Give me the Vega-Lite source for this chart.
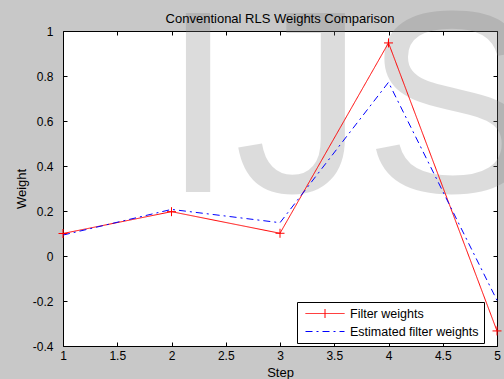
{
  "$schema": "https://vega.github.io/schema/vega-lite/v6.json",
  "width": 434,
  "height": 315,
  "autosize": {"type": "none"},
  "padding": {"left": 63, "top": 31, "right": 7, "bottom": 33},
  "background": "#c8c8c8",
  "config": {
    "view": {"fill": "white", "stroke": null},
    "font": "Liberation Sans",
    "axis": {
      "grid": false,
      "domainColor": "black",
      "tickColor": "black",
      "labelColor": "black",
      "titleColor": "black",
      "labelFont": "Liberation Sans",
      "titleFont": "Liberation Sans",
      "labelFontSize": 12,
      "titleFontSize": 13,
      "titleFontWeight": "normal",
      "tickSize": -4,
      "zindex": 1,
      "domainWidth": 1,
      "tickWidth": 1,
      "labelFlush": false
    }
  },
  "title": {
    "text": "Conventional RLS Weights Comparison",
    "fontSize": 13,
    "fontWeight": "normal",
    "font": "Liberation Sans",
    "color": "black",
    "frame": "group",
    "baseline": "alphabetic",
    "offset": 10,
    "dy": 62,
    "anchor": "middle"
  },
  "datasets": {
    "weights": [
      {"step": 1, "weight": 0.1, "series": "Filter weights"},
      {"step": 2, "weight": 0.197, "series": "Filter weights"},
      {"step": 3, "weight": 0.101, "series": "Filter weights"},
      {"step": 4, "weight": 0.947, "series": "Filter weights"},
      {"step": 5, "weight": -0.333, "series": "Filter weights"},
      {"step": 1, "weight": 0.093, "series": "Estimated filter weights"},
      {"step": 2, "weight": 0.207, "series": "Estimated filter weights"},
      {"step": 3, "weight": 0.148, "series": "Estimated filter weights"},
      {"step": 4, "weight": 0.772, "series": "Estimated filter weights"},
      {"step": 5, "weight": -0.197, "series": "Estimated filter weights"}
    ],
    "mark": [{"label": "IJS"}]
  },
  "resolve": {"axis": {"x": "independent", "y": "independent"}},
  "layer": [
    {
      "data": {"name": "mark"},
      "mark": {"type": "text", "font": "Liberation Sans", "fontSize": 260, "align": "left", "baseline": "top", "color": "#808080", "opacity": 0.27, "clip": false},
      "encoding": {
        "x": {"datum": 1.912, "type": "quantitative", "axis": null},
        "y": {"datum": 1.1956, "type": "quantitative", "axis": null},
        "text": {"field": "label"}
      }
    },
    {
      "data": {"name": "weights"},
      "mark": {"type": "line", "strokeWidth": 1},
      "encoding": {
        "x": {
          "field": "step", "type": "quantitative",
          "scale": {"domain": [1, 5], "nice": false, "zero": false},
          "axis": {"orient": "bottom", "values": [1, 1.5, 2, 2.5, 3, 3.5, 4, 4.5, 5], "labelExpr": "'' + datum.value", "labelPadding": 8, "title": "Step", "titleY": 30, "titleBaseline": "alphabetic"}
        },
        "y": {
          "field": "weight", "type": "quantitative",
          "scale": {"domain": [-0.4, 1], "nice": false, "zero": false},
          "axis": {"orient": "left", "values": [-0.4, -0.2, 0, 0.2, 0.4, 0.6, 0.8, 1], "labelExpr": "'' + datum.value", "labelPadding": 14, "title": "Weight", "titleX": -37.5, "titleY": 157.5, "titleAngle": -90, "titleAlign": "center", "titleBaseline": "alphabetic"}
        },
        "color": {
          "field": "series", "type": "nominal",
          "scale": {"domain": ["Filter weights", "Estimated filter weights"], "range": ["#ff0000", "#0000ff"]},
          "legend": {
            "title": null,
            "orient": "none",
            "legendX": 234,
            "legendY": 271,
            "fillColor": "white",
            "strokeColor": "black",
            "padding": 5,
            "symbolOffset": 3,
            "symbolType": "stroke",
            "symbolSize": 1521,
            "symbolStrokeWidth": 1,
            "clipHeight": 13,
            "rowPadding": 5,
            "labelFont": "Liberation Sans",
            "labelFontSize": 12.5,
            "labelColor": "black",
            "labelOffset": 5,
            "labelLimit": 300,
            "encode": {"symbols": {"update": {"shape": {"signal": "datum.value === 'Filter weights' ? 'M-1,0L1,0M0,-0.23L0,0.23' : 'stroke'"}}}}
          }
        },
        "strokeDash": {
          "field": "series", "type": "nominal",
          "scale": {"domain": ["Filter weights", "Estimated filter weights"], "range": [[1, 0], [7, 4, 2, 4]]},
          "legend": {
            "title": null,
            "orient": "none",
            "legendX": 234,
            "legendY": 271,
            "fillColor": "white",
            "strokeColor": "black",
            "padding": 5,
            "symbolOffset": 3,
            "symbolType": "stroke",
            "symbolSize": 1521,
            "symbolStrokeWidth": 1,
            "clipHeight": 13,
            "rowPadding": 5,
            "labelFont": "Liberation Sans",
            "labelFontSize": 12.5,
            "labelColor": "black",
            "labelOffset": 5,
            "labelLimit": 300,
            "encode": {"symbols": {"update": {"shape": {"signal": "datum.value === 'Filter weights' ? 'M-1,0L1,0M0,-0.23L0,0.23' : 'stroke'"}}}}
          }
        }
      }
    },
    {
      "data": {"name": "weights"},
      "transform": [{"filter": "datum.series === 'Filter weights'"}],
      "mark": {"type": "point", "shape": "M-1,0L1,0M0,-1L0,1", "filled": false, "size": 81, "strokeWidth": 1, "color": "#ff0000", "opacity": 1},
      "encoding": {
        "x": {
          "field": "step", "type": "quantitative",
          "axis": {"orient": "top", "values": [1, 1.5, 2, 2.5, 3, 3.5, 4, 4.5, 5], "labels": false, "title": null}
        },
        "y": {
          "field": "weight", "type": "quantitative",
          "axis": {"orient": "right", "values": [-0.4, -0.2, 0, 0.2, 0.4, 0.6, 0.8, 1], "labels": false, "title": null}
        }
      }
    }
  ]
}
